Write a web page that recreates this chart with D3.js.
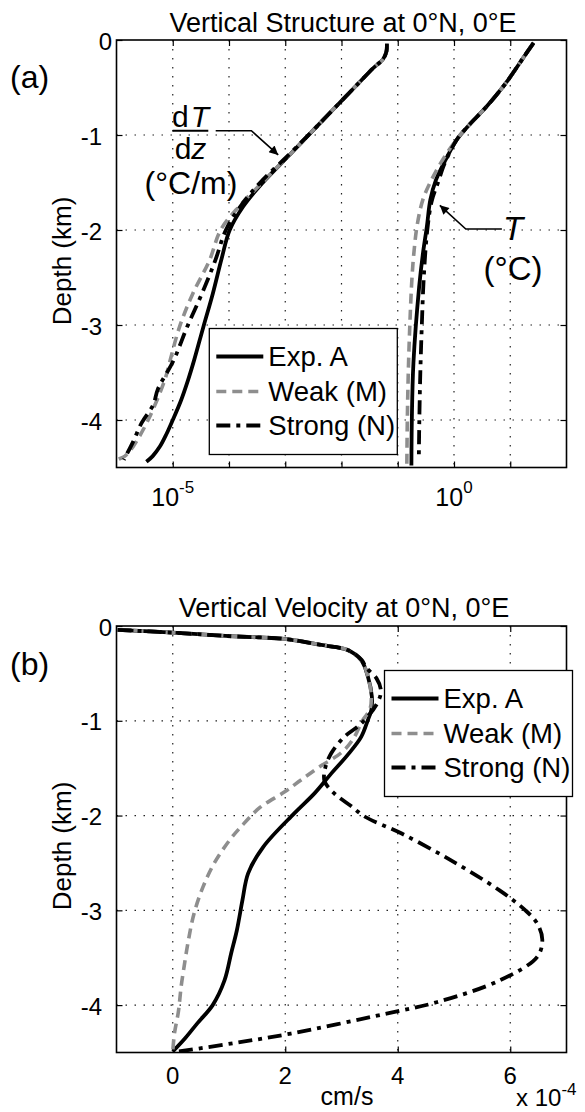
<!DOCTYPE html>
<html>
<head>
<meta charset="utf-8">
<script src="https://cdn.jsdelivr.net/npm/d3@7"></script>
<style>
body { margin: 0; background: #fff; }
svg { display: block; font-family: "Liberation Sans", Arial, Helvetica, sans-serif; }
</style>
</head>
<body>
<svg id="fig" width="585" height="1112"></svg>
<script>
// ---- data: [depth (km), value] ----
// panel (a) dT/dz (degC/m)
var dTdzExpA = [[-0.04,6.4e-2],[-0.12,6.3e-2],[-0.2,5.5e-2],[-0.3,3.6e-2],[-0.45,2.05e-2],[-0.63,1.04e-2],
    [-0.8,5.5e-3],[-0.98,2.8e-3],[-1.21,1.19e-3],[-1.51,3.86e-4],[-1.75,1.8e-4],[-2.0,1.03e-4],[-2.3,7.4e-5],
    [-2.67,5.15e-5],[-3.02,3.5e-5],[-3.37,2.4e-5],[-3.58,1.87e-5],[-3.8,1.39e-5],[-4.0,1.0e-5],[-4.15,7.7e-6],
    [-4.28,5.9e-6],[-4.38,4.4e-6],[-4.44,3.4e-6]];
var dTdzWeak = [[-0.04,6.4e-2],[-0.12,6.3e-2],[-0.2,5.5e-2],[-0.3,3.6e-2],[-0.45,2.05e-2],[-0.63,1.04e-2],
    [-0.8,5.5e-3],[-0.98,2.8e-3],[-1.21,1.19e-3],[-1.51,3.75e-4],[-1.75,1.52e-4],[-2.0,7.1e-5],[-2.32,4.5e-5],
    [-2.67,2.27e-5],[-3.02,1.32e-5],[-3.37,9.0e-6],[-3.58,7.2e-6],[-4.0,3.65e-6],[-4.28,1.97e-6],
    [-4.38,1.41e-6],[-4.41,1.11e-6],[-4.42,1.0e-6]];
var dTdzStrong = [[-0.04,6.4e-2],[-0.12,6.3e-2],[-0.2,5.5e-2],[-0.3,3.6e-2],[-0.45,2.05e-2],[-0.63,1.04e-2],
    [-0.8,5.5e-3],[-0.98,2.8e-3],[-1.21,1.15e-3],[-1.5,3.6e-4],[-1.75,1.6e-4],[-2.0,8.8e-5],[-2.32,5.7e-5],
    [-2.67,3.3e-5],[-3.02,1.8e-5],[-3.37,1.04e-5],[-3.68,5.4e-6],[-3.84,4.5e-6],[-4.03,2.8e-6],
    [-4.23,1.97e-6],[-4.42,1.35e-6]];
// panel (a) T (degC)
var tempExpA = [[-0.03,26],[-0.175,17.6],[-0.46,8.2],[-0.7,3.8],[-0.91,1.76],[-1.05,1.12],[-1.26,0.71],
    [-1.47,0.48],[-1.68,0.38],[-1.96,0.33],[-2.25,0.28],[-2.6,0.24],[-3.4,0.19],[-4.0,0.178],[-4.48,0.175]];
var tempWeak = [[-0.03,26],[-0.175,17.6],[-0.46,8.2],[-0.7,3.8],[-0.91,1.76],[-1.05,1.1],[-1.26,0.63],
    [-1.47,0.40],[-1.68,0.28],[-1.96,0.22],[-2.25,0.193],[-2.53,0.178],[-3.0,0.164],[-3.5,0.154],
    [-4.0,0.148],[-4.48,0.145]];
var tempStrong = [[-0.03,26],[-0.175,17.6],[-0.46,8.2],[-0.7,3.8],[-0.91,1.76],[-1.05,1.12],[-1.3,0.68],
    [-1.5,0.52],[-1.7,0.40],[-2.0,0.335],[-2.5,0.29],[-3.0,0.268],[-3.5,0.252],[-4.0,0.242],[-4.4,0.237]];
// panel (b) vertical velocity (1e-4 cm/s)
var velExpA = [[-0.04,-0.98],[-0.07,0],[-0.105,0.94],[-0.14,2.05],[-0.2,2.64],[-0.253,3.11],[-0.36,3.35],
    [-0.535,3.47],[-0.746,3.54],[-0.887,3.53],[-0.99,3.47],[-1.17,3.35],[-1.36,3.11],[-1.555,2.82],
    [-1.766,2.52],[-1.977,2.16],[-2.33,1.61],[-2.61,1.34],[-2.89,1.24],[-3.21,1.14],[-3.45,1.04],
    [-3.74,0.92],[-4.0,0.71],[-4.19,0.44],[-4.35,0.22],[-4.49,0.0]];
var velWeak = [[-0.04,-0.98],[-0.07,0],[-0.105,0.94],[-0.14,2.05],[-0.2,2.64],[-0.253,3.11],[-0.36,3.35],
    [-0.535,3.47],[-0.746,3.53],[-0.887,3.5],[-0.99,3.38],[-1.2,3.2],[-1.34,2.99],[-1.485,2.61],
    [-1.625,2.28],[-1.75,1.99],[-1.92,1.54],[-2.12,1.21],[-2.26,1.01],[-2.5,0.74],[-2.75,0.54],
    [-3.03,0.38],[-3.31,0.28],[-3.6,0.2],[-3.8,0.15],[-4.07,0.1],[-4.3,0.03],[-4.49,0.0]];
var velStrong = [[-0.04,-0.98],[-0.07,0],[-0.105,0.94],[-0.14,2.05],[-0.2,2.64],[-0.253,3.11],[-0.36,3.36],
    [-0.44,3.44],[-0.55,3.62],[-0.68,3.7],[-0.81,3.64],[-1.03,3.35],[-1.17,3.05],[-1.34,2.82],[-1.5,2.71],
    [-1.64,2.7],[-1.77,2.88],[-1.9,3.17],[-2.01,3.41],[-2.19,4.07],[-2.47,4.94],[-2.79,5.81],[-3.0,6.27],
    [-3.14,6.48],[-3.31,6.57],[-3.49,6.48],[-3.74,5.81],[-3.97,4.69],[-4.09,3.8],[-4.3,2.1],[-4.4,1.1],
    [-4.49,0.1]];

var depthTicks = [0, -1, -2, -3, -4];
var logTicks = [1e-5, 1e-4, 1e-3, 1e-2, 1e-1, 1e0, 1e1];
var logTickLabels = [[1e-5, "-5"], [1e0, "0"]];
var velTicks = [0, 2, 4, 6];
var legendNames = ["Exp. A", "Weak (M)", "Strong (N)"];

// ---- styles ----
var styles = [
    {stroke: "#000", width: 3.8, dash: null},
    {stroke: "#8e8e8e", width: 3.6, dash: "10,6"},
    {stroke: "#000", width: 3.8, dash: "14,6,4,6"}
];

var svg = d3.select("#fig");
var left = 116.5, right = 566.5;

var defs = svg.append("defs");
defs.append("marker")
    .attr("id", "arrow")
    .attr("viewBox", "0 0 10 10")
    .attr("refX", 10).attr("refY", 5)
    .attr("markerWidth", 12).attr("markerHeight", 9)
    .attr("markerUnits", "userSpaceOnUse")
    .attr("orient", "auto")
    .append("path").attr("d", "M0,0L10,5L0,10z").attr("fill", "#000");

function frame(id, x, y, xGrid, top, bottom) {
    var g = svg.append("g");
    defs.append("clipPath").attr("id", id)
        .append("rect").attr("x", left).attr("y", top)
        .attr("width", right - left).attr("height", bottom - top);

    // grid
    g.selectAll(".gx").data(xGrid).enter().append("line")
        .attr("x1", function(d) { return x(d); }).attr("x2", function(d) { return x(d); })
        .attr("y1", top).attr("y2", bottom)
        .attr("stroke", "#222").attr("stroke-width", 1.2).attr("stroke-dasharray", "1.5,7.5");
    g.selectAll(".gy").data(depthTicks.slice(1)).enter().append("line")
        .attr("x1", left).attr("x2", right)
        .attr("y1", function(d) { return y(d); }).attr("y2", function(d) { return y(d); })
        .attr("stroke", "#222").attr("stroke-width", 1.2).attr("stroke-dasharray", "1.5,7.5");

    // inward ticks on all four sides
    var ax = [
        [d3.axisBottom(x).tickValues(xGrid), "translate(0," + bottom + ")"],
        [d3.axisTop(x).tickValues(xGrid), "translate(0," + top + ")"],
        [d3.axisLeft(y).tickValues(depthTicks), "translate(" + left + ",0)"],
        [d3.axisRight(y).tickValues(depthTicks), "translate(" + right + ",0)"]
    ];
    ax.forEach(function(a) {
        var t = g.append("g").attr("transform", a[1])
            .call(a[0].tickSize(-6).tickFormat(""));
        t.select(".domain").remove();
        t.selectAll("line").attr("stroke", "#000").attr("stroke-width", 1.2);
    });

    g.append("rect").attr("x", left).attr("y", top)
        .attr("width", right - left).attr("height", bottom - top)
        .attr("fill", "none").attr("stroke", "#000").attr("stroke-width", 1.6);

    // depth tick labels
    g.selectAll(".yl").data(depthTicks).enter().append("text")
        .attr("x", function(d) { return d === 0 ? 112 : 102; })
        .attr("y", function(d) { return y(d); })
        .attr("dy", "0.4em")
        .attr("text-anchor", "end")
        .attr("font-size", 24)
        .text(function(d) { return d === 0 ? "0" : "-" + Math.abs(d); });
    return g;
}

function curves(g, clipId, series, x, y) {
    var line = d3.line()
        .x(function(d) { return x(d[1]); })
        .y(function(d) { return y(d[0]); })
        .curve(d3.curveCatmullRom.alpha(0.5));
    var cg = g.append("g").attr("clip-path", "url(#" + clipId + ")");
    series.forEach(function(s) {
        var st = styles[s[1]];
        cg.append("path").datum(s[0])
            .attr("d", line)
            .attr("fill", "none")
            .attr("stroke", st.stroke)
            .attr("stroke-width", st.width)
            .attr("stroke-dasharray", st.dash)
            .attr("stroke-linejoin", "round");
    });
}

function legend(g, lx, ly) {
    var lg = g.append("g").attr("transform", "translate(" + lx + "," + ly + ")");
    lg.append("rect").attr("width", 188).attr("height", 126)
        .attr("fill", "#fff").attr("stroke", "#000").attr("stroke-width", 1.3);
    var rows = [28, 63, 97];
    legendNames.forEach(function(name, i) {
        var st = styles[i];
        lg.append("line").attr("x1", 7).attr("x2", 54)
            .attr("y1", rows[i]).attr("y2", rows[i])
            .attr("stroke", st.stroke).attr("stroke-width", st.width)
            .attr("stroke-dasharray", st.dash);
        lg.append("text").attr("x", 59).attr("y", rows[i]).attr("dy", "0.36em")
            .attr("font-size", 27.5).text(name);
    });
}

function depthLabel(cy) {
    svg.append("text")
        .attr("transform", "translate(71," + cy + ") rotate(-90)")
        .attr("text-anchor", "middle").attr("font-size", 26)
        .text("Depth (km)");
}

// ================= panel (a) =================
var topA = 40, botA = 467.5;
var xA = d3.scaleLog().domain([1e-6, 1e2]).range([left, right]);
var yA = d3.scaleLinear().domain([-4.5, 0]).range([botA, topA]);
var gA = frame("clipA", xA, yA, logTicks, topA, botA);

curves(gA, "clipA", [
    [dTdzExpA, 0], [dTdzWeak, 1], [dTdzStrong, 2],
    [tempExpA, 0], [tempWeak, 1], [tempStrong, 2]
], xA, yA);

legend(gA, 209.3, 328.5);

logTickLabels.forEach(function(t) {
    var tx = gA.append("text").attr("x", xA(t[0])).attr("y", 506)
        .attr("text-anchor", "middle").attr("font-size", 25);
    tx.append("tspan").text("10");
    tx.append("tspan").attr("font-size", 17).attr("dy", -13).text(t[1]);
});

svg.append("text").attr("x", 343).attr("y", 32).attr("text-anchor", "middle")
    .attr("font-size", 27).text("Vertical Structure at 0\u00b0N, 0\u00b0E");
svg.append("text").attr("x", 10).attr("y", 88).attr("font-size", 32).text("(a)");
depthLabel(261);

// dT/dz annotation
var frac = gA.append("g");
var num = frac.append("text").attr("x", 190.5).attr("y", 127).attr("text-anchor", "middle").attr("font-size", 30);
num.append("tspan").text("d");
num.append("tspan").attr("dx", 2).attr("font-style", "italic").text("T");
frac.append("line").attr("x1", 172.7).attr("x2", 208.3).attr("y1", 130.7).attr("y2", 130.7)
    .attr("stroke", "#000").attr("stroke-width", 2);
var den = frac.append("text").attr("x", 190.5).attr("y", 158.5).attr("text-anchor", "middle").attr("font-size", 30);
den.append("tspan").text("d");
den.append("tspan").attr("font-style", "italic").text("z");
frac.append("text").attr("x", 191).attr("y", 194).attr("text-anchor", "middle")
    .attr("font-size", 32).text("(\u00b0C/m)");
var arrowLine = d3.line().x(function(d) { return xA(d[1]); }).y(function(d) { return yA(d[0]); });
gA.append("path").datum([[-0.955, 5.8e-5], [-0.955, 2.5e-4], [-1.21, 7.5e-4]])
    .attr("d", arrowLine).attr("fill", "none").attr("stroke", "#000").attr("stroke-width", 1.6)
    .attr("marker-end", "url(#arrow)");

// T annotation
gA.append("path").datum([[-1.99, 7.1], [-1.99, 1.62], [-1.74, 0.56]])
    .attr("d", arrowLine).attr("fill", "none").attr("stroke", "#000").attr("stroke-width", 1.6)
    .attr("marker-end", "url(#arrow)");
gA.append("text").attr("x", 503).attr("y", 240).attr("font-size", 33)
    .attr("font-style", "italic").text("T");
gA.append("text").attr("x", 513).attr("y", 280).attr("text-anchor", "middle")
    .attr("font-size", 33).text("(\u00b0C)");

// ================= panel (b) =================
var topB = 626, botB = 1052.5;
var xB = d3.scaleLinear().domain([-1, 7]).range([left, right]);
var yB = d3.scaleLinear().domain([-4.5, 0]).range([botB, topB]);
var gB = frame("clipB", xB, yB, velTicks, topB, botB);

curves(gB, "clipB", [[velExpA, 0], [velWeak, 1], [velStrong, 2]], xB, yB);

legend(gB, 384.5, 670.5);

gB.selectAll(".xl").data(velTicks).enter().append("text")
    .attr("x", function(d) { return xB(d); }).attr("y", 1084)
    .attr("text-anchor", "middle").attr("font-size", 24)
    .text(function(d) { return d; });

var expo = gB.append("text").attr("x", 516).attr("y", 1106).attr("font-size", 24);
expo.append("tspan").text("x 10");
expo.append("tspan").attr("font-size", 17).attr("dy", -11).text("-4");
gB.append("text").attr("x", 347).attr("y", 1105).attr("text-anchor", "middle")
    .attr("font-size", 25).text("cm/s");

svg.append("text").attr("x", 344).attr("y", 617).attr("text-anchor", "middle")
    .attr("font-size", 27).text("Vertical Velocity at 0\u00b0N, 0\u00b0E");
svg.append("text").attr("x", 10).attr("y", 675).attr("font-size", 32).text("(b)");
depthLabel(846);
</script>
</body>
</html>
